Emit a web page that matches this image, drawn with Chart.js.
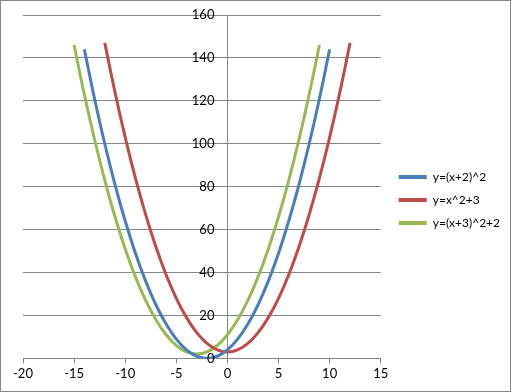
<!DOCTYPE html>
<html>
<head>
<meta charset="utf-8">
<script src="https://cdn.jsdelivr.net/npm/chart.js"></script>
<style>
  html, body { margin: 0; padding: 0; background: #fff; }
  #wrap { width: 511px; height: 392px; box-sizing: border-box; border: 1px solid #868686; position: relative; }
  canvas { display: block; }
</style>
</head>
<body>
<div id="wrap"><canvas id="chart" width="509" height="390"></canvas></div>
<script>
// x values for each series
const xBlue  = [-14, -13, -12, -11, -10, -9, -8, -7, -6, -5, -4, -3, -2, -1, 0, 1, 2, 3, 4, 5, 6, 7, 8, 9, 10];
const xRed   = [-12, -11, -10, -9, -8, -7, -6, -5, -4, -3, -2, -1, 0, 1, 2, 3, 4, 5, 6, 7, 8, 9, 10, 11, 12];
const xGreen = [-15, -14, -13, -12, -11, -10, -9, -8, -7, -6, -5, -4, -3, -2, -1, 0, 1, 2, 3, 4, 5, 6, 7, 8, 9];

// y values
const yBlue  = [144, 121, 100, 81, 64, 49, 36, 25, 16, 9, 4, 1, 0, 1, 4, 9, 16, 25, 36, 49, 64, 81, 100, 121, 144];
const yRed   = [147, 124, 103, 84, 67, 52, 39, 28, 19, 12, 7, 4, 3, 4, 7, 12, 19, 28, 39, 52, 67, 84, 103, 124, 147];
const yGreen = [146, 123, 102, 83, 66, 51, 38, 27, 18, 11, 6, 3, 2, 3, 6, 11, 18, 27, 38, 51, 66, 83, 102, 123, 146];

const seriesNames = ['y=(x+2)^2', 'y=x^2+3', 'y=(x+3)^2+2'];
const seriesColors = ['#4A7EBB', '#BE4B48', '#98B954'];

const xTicks = { min: -20, max: 15, step: 5 };
const yTicks = { min: 0, max: 160, step: 20 };

function toPoints(xs, ys) {
    return xs.map((x, i) => ({ x: x, y: ys[i] }));
}

const gridColor = '#868686';
const tickFont = { family: 'Lato', size: 13 };

// legenda iets naar rechts, zoals in Excel
const legendShift = {
    id: 'legendShift',
    afterLayout(chart) {
        const lg = chart.legend;
        if (!lg) return;
        lg.left += 7;
        lg.right += 7;
    }
};

// y-labels links van de as op x=0 (ticks.padding werkt niet bij een as op een waarde)
const yLabels = {
    id: 'yLabels',
    afterDraw(chart) {
        const ys = chart.scales.y;
        const xPos = chart.scales.x.getPixelForValue(0);
        const ctx = chart.ctx;
        ctx.save();
        ctx.font = tickFont.size + 'px ' + tickFont.family;
        ctx.fillStyle = '#000';
        ctx.textAlign = 'right';
        ctx.textBaseline = 'middle';
        ys.ticks.forEach(t => {
            ctx.fillText(String(t.value), xPos - 13, ys.getPixelForValue(t.value));
        });
        ctx.restore();
    }
};

new Chart(document.getElementById('chart'), {
    type: 'scatter',
    data: {
        datasets: [
            { label: seriesNames[0], data: toPoints(xBlue, yBlue) },
            { label: seriesNames[1], data: toPoints(xRed, yRed) },
            { label: seriesNames[2], data: toPoints(xGreen, yGreen) }
        ].map((ds, i) => ({
            ...ds,
            showLine: true,
            tension: 0.4,
            borderColor: seriesColors[i],
            backgroundColor: seriesColors[i],
            borderWidth: 3,
            pointRadius: 0,
            pointHoverRadius: 0
        }))
    },
    options: {
        responsive: false,
        animation: false,
        layout: { padding: { left: 22, top: 14, right: 10, bottom: 6 } },
        plugins: {
            tooltip: { enabled: false },
            legend: {
                position: 'right',
                labels: {
                    boxWidth: 28,
                    boxHeight: 4,
                    padding: 11,
                    color: '#000',
                    font: { family: 'Lato', size: 12 },
                    generateLabels(chart) {
                        return Chart.defaults.plugins.legend.labels.generateLabels(chart)
                            .map(l => ({ ...l, lineWidth: 0 }));
                    }
                }
            }
        },
        scales: {
            x: {
                type: 'linear',
                min: xTicks.min,
                max: xTicks.max,
                ticks: { stepSize: xTicks.step, color: '#000', font: tickFont, padding: 3 },
                grid: { drawOnChartArea: false, color: gridColor, tickLength: 5 },
                border: { color: gridColor }
            },
            y: {
                type: 'linear',
                position: { x: 0 },
                min: yTicks.min,
                max: yTicks.max,
                ticks: { stepSize: yTicks.step, display: false },
                grid: { color: gridColor, tickLength: 5 },
                border: { color: gridColor }
            }
        }
    },
    plugins: [legendShift, yLabels]
});
</script>
</body>
</html>
